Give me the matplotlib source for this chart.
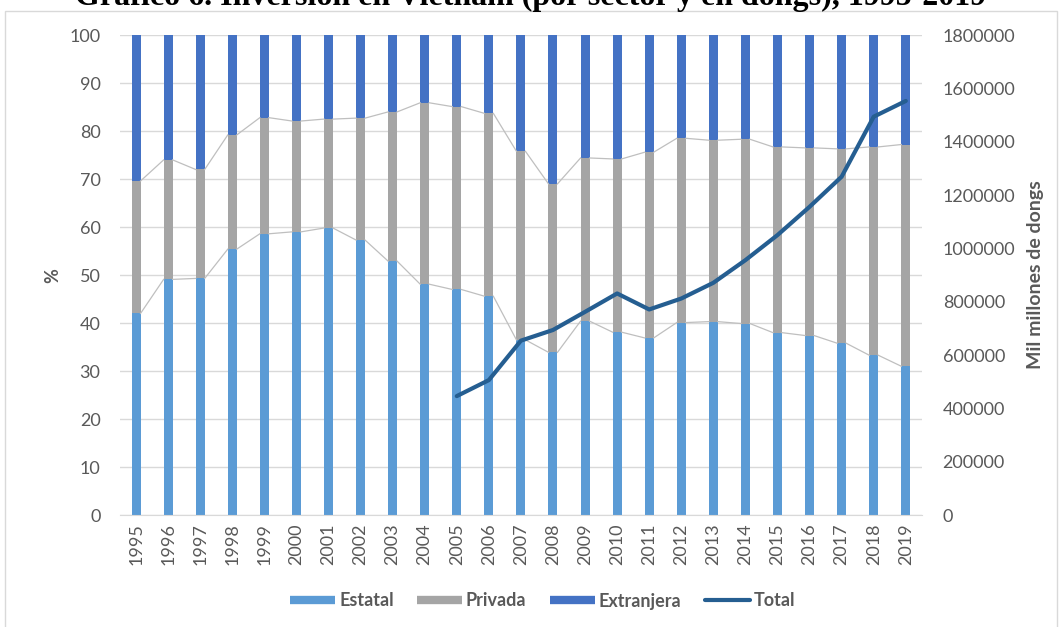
import matplotlib.pyplot as plt
import numpy as np
from matplotlib.lines import Line2D

# Inversión en Vietnam por sector (%) y total (mil millones de dongs)
years = list(range(1995, 2020))
estatal = [42.0, 49.1, 49.3, 55.4, 58.6, 59.0, 59.8, 57.3, 52.9, 48.1,
           47.0, 45.6, 36.5, 33.9, 40.4, 38.1, 36.9, 40.1, 40.3, 39.9,
           38.0, 37.4, 35.8, 33.3, 31.0]
privada = [27.6, 24.9, 22.7, 23.8, 24.2, 23.1, 22.7, 25.4, 31.1, 37.8,
           38.1, 38.1, 39.3, 35.1, 34.0, 36.1, 38.7, 38.4, 37.8, 38.4,
           38.7, 39.1, 40.5, 43.4, 46.2]
extranjera = [100 - e - p for e, p in zip(estatal, privada)]

total_years = list(range(2005, 2020))
total = [446000, 506000, 654000, 694000, 762000, 831000, 771000, 812000,
         871000, 956000, 1050000, 1156000, 1269000, 1494000, 1553000]

C_EST = '#5B9BD5'
C_PRIV = '#A5A5A5'
C_EXT = '#4472C4'
C_TOT = '#255E91'
TXT = '#595959'
FONT = 'Lato'

fig = plt.figure(figsize=(10.62, 6.27), dpi=100)
ax = fig.add_axes([0.113, 0.1786, 0.755, 0.7654])

x = np.arange(len(years))
w = 0.28
est = np.array(estatal)
priv = np.array(privada)
ext = np.array(extranjera)

ax.bar(x, est, w, color=C_EST, zorder=2)
ax.bar(x, priv, w, bottom=est, color=C_PRIV, zorder=2)
ax.bar(x, ext, w, bottom=est + priv, color=C_EXT, zorder=2)

# series lines joining segment tops between neighbouring bars
for level in (est, est + priv):
    for i in range(len(x) - 1):
        ax.plot([x[i] + w / 2, x[i + 1] - w / 2], [level[i], level[i + 1]],
                color='#BFBFBF', lw=0.9, zorder=3)

ax.set_xlim(-0.5, len(years) - 0.5)
ax.set_ylim(0, 100)
ax.set_yticks(range(0, 101, 10))
ax.set_xticks(x)
ax.set_xticklabels([str(y) for y in years], rotation=90)
ax.yaxis.grid(True, color='#D9D9D9', lw=1)
ax.set_axisbelow(True)
for s in ('top', 'right', 'left'):
    ax.spines[s].set_visible(False)
ax.spines['bottom'].set_color('#D9D9D9')
ax.tick_params(length=0, colors=TXT, labelsize=13)
ax.tick_params(axis='x', pad=6)
ax.tick_params(axis='y', pad=14)
for lab in ax.get_xticklabels() + ax.get_yticklabels():
    lab.set_fontfamily(FONT)
ax.set_ylabel('%', fontfamily=FONT, fontsize=13, fontweight='bold',
              color=TXT, labelpad=6)

ax2 = ax.twinx()
tx = [years.index(y) for y in total_years]
ax2.plot(tx, total, color=C_TOT, lw=3, zorder=5, solid_capstyle='round')
ax2.set_ylim(0, 1800000)
ax2.set_yticks(range(0, 1800001, 200000))
ax2.set_yticklabels([str(v) for v in range(0, 1800001, 200000)])
for s in ax2.spines.values():
    s.set_visible(False)
ax2.tick_params(length=0, colors=TXT, labelsize=13, pad=15)
for lab in ax2.get_yticklabels():
    lab.set_fontfamily(FONT)
ax2.set_ylabel('Mil millones de dongs', fontfamily=FONT, fontsize=14,
               fontweight='bold', color=TXT, labelpad=8)

handles = [Line2D([], [], color=C_EST, lw=6, solid_capstyle='butt'),
           Line2D([], [], color=C_PRIV, lw=6, solid_capstyle='butt'),
           Line2D([], [], color=C_EXT, lw=6, solid_capstyle='butt'),
           Line2D([], [], color=C_TOT, lw=3, solid_capstyle='round')]
leg = fig.legend(handles, ['Estatal', 'Privada', 'Extranjera', 'Total'],
                 loc='center', bbox_to_anchor=(0.511, 1 - 601 / 627), ncol=4,
                 frameon=False, handlelength=2.5, handletextpad=0.2,
                 columnspacing=1.3,
                 prop={'family': FONT, 'size': 13, 'weight': 'bold'})
for t in leg.get_texts():
    t.set_color(TXT)

# outer chart border
fig.patches.append(plt.Rectangle((5 / 1062, -0.01), 1052 / 1062, 1 - 11 / 627 + 0.01,
                                 transform=fig.transFigure, fill=False,
                                 edgecolor='#D9D9D9', lw=1))

fig.text(0.5, 1 - 5 / 627, 'Gráfico 6. Inversión en Vietnam (por sector y en dongs), 1995-2019',
         ha='center', va='baseline', fontfamily='Liberation Serif',
         fontweight='bold', fontsize=23)

fig.savefig('out.png', dpi=100)
